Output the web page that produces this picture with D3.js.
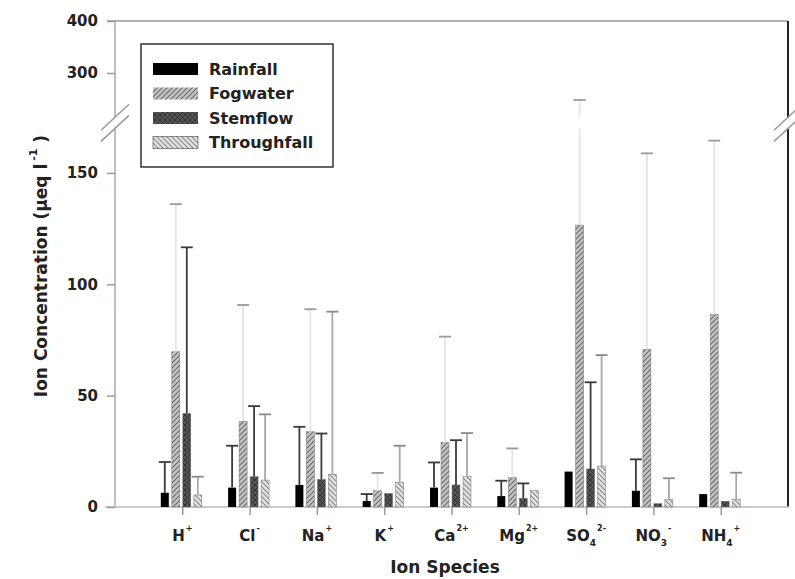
<!DOCTYPE html>
<html>
<head>
<meta charset="utf-8">
<script src="https://cdn.jsdelivr.net/npm/d3@7"></script>
<style>
  body { margin: 0; background: #fff; }
  svg { display: block; }
  text { font-family: "DejaVu Sans", sans-serif; font-weight: bold; fill: #222; }
</style>
</head>
<body>
<svg id="chart" width="795" height="579"></svg>
<script>
// ion species (label base, subscript, superscript)
const ions    = ["H", "Cl", "Na", "K", "Ca", "Mg", "SO", "NO", "NH"];
const ionSubs = ["", "", "", "", "", "", "4", "3", "4"];
const ionSups = ["+", "-", "+", "+", "2+", "2+", "2-", "-", "+"];

const series = ["Rainfall", "Fogwater", "Stemflow", "Throughfall"];

// mean concentrations (ueq/l)
const rainfall    = [6.4, 8.7, 9.9, 2.7, 8.7, 4.9, 15.9, 7.3, 5.8];
const fogwater    = [69.7, 38.5, 33.8, 7.3, 29.0, 13.2, 126.6, 70.8, 86.5];
const stemflow    = [42.0, 13.6, 12.4, 6.1, 9.9, 3.9, 17.1, 1.5, 2.6];
const throughfall = [5.4, 12.1, 14.7, 11.1, 13.6, 7.3, 18.4, 3.5, 3.4];

// standard deviations (upper error bars)
const rainfallSd    = [13.8, 18.8, 26.1, 3.1, 11.3, 6.9, 0, 14.1, 0];
const fogwaterSd    = [66.3, 52.2, 55.0, 8.0, 47.5, 13.1, 121.4, 88.0, 78.0];
const stemflowSd    = [74.6, 31.7, 20.6, 0, 20.1, 6.7, 38.9, 0, 0];
const throughfallSd = [8.2, 29.5, 73.0, 16.4, 19.6, 0, 49.8, 9.4, 12.0];

const lowTicks = [0, 50, 100, 150];
const highTicks = [300, 400];

const means = [rainfall, fogwater, stemflow, throughfall];
const sds = [rainfallSd, fogwaterSd, stemflowSd, throughfallSd];

const svg = d3.select("#chart");

const pl = 115, pr = 788, pb = 507, pt = 21;
const lowTop = 128.4, highBottom = 117.2;

const x = d3.scaleLinear().domain([0, 10]).range([pl, pr]);
const inner = d3.scaleBand().domain(series).range([-21.5, 19.5]).paddingInner(3 / 11);
const yLow = d3.scaleLinear().domain([0, 170]).range([pb, lowTop]);
const yHigh = d3.scaleLinear().domain([215, 400]).range([highBottom, pt]);

function yOf(v) { return v <= 170 ? yLow(v) : yHigh(Math.max(v, 215)); }

// patterns
const defs = svg.append("defs");
function pattern(id, bg, path, stroke, sw) {
  const p = defs.append("pattern").attr("id", id)
    .attr("patternUnits", "userSpaceOnUse").attr("width", 5).attr("height", 5);
  p.append("rect").attr("width", 5).attr("height", 5).attr("fill", bg);
  p.append("path").attr("d", path).attr("stroke", stroke).attr("stroke-width", sw).attr("fill", "none");
}
pattern("fog", "#c4c4c4", "M-1,6L6,-1M-1,1L1,-1M4,6L6,4", "#6a6a6a", 1.1);
pattern("stem", "#555", "M0,5L5,0M0,0L5,5", "#333", 1);
pattern("thru", "#e2e2e2", "M-1,-1L6,6M4,-1L6,1M-1,4L1,6", "#8a8a8a", 1.1);

const fills = { Rainfall: "#000", Fogwater: "url(#fog)", Stemflow: "url(#stem)", Throughfall: "url(#thru)" };
const errLine = { Rainfall: "#3a3a3a", Fogwater: "#e4e4e4", Stemflow: "#3a3a3a", Throughfall: "#a8a8a8" };
const errCap = { Rainfall: "#3a3a3a", Fogwater: "#9a9a9a", Stemflow: "#3a3a3a", Throughfall: "#8a8a8a" };

// frame
const frame = svg.append("g").attr("fill", "none");
frame.append("line").attr("x1", 107).attr("x2", pr).attr("y1", pt).attr("y2", pt)
  .attr("stroke", "#999").attr("stroke-width", 1.5);
frame.append("line").attr("x1", pl).attr("x2", pl).attr("y1", pt).attr("y2", highBottom)
  .attr("stroke", "#aaa").attr("stroke-width", 1.5);
frame.append("line").attr("x1", pl).attr("x2", pl).attr("y1", lowTop).attr("y2", pb)
  .attr("stroke", "#aaa").attr("stroke-width", 1.5);
frame.append("line").attr("x1", pr).attr("x2", pr).attr("y1", pt).attr("y2", highBottom)
  .attr("stroke", "#222").attr("stroke-width", 2);
frame.append("line").attr("x1", pr).attr("x2", pr).attr("y1", lowTop).attr("y2", pb)
  .attr("stroke", "#222").attr("stroke-width", 2);
frame.append("line").attr("x1", 105).attr("x2", pr + 1).attr("y1", pb).attr("y2", pb)
  .attr("stroke", "#bbb").attr("stroke-width", 1.5);

// break marks
[pl, pr].forEach(cx => {
  [highBottom, lowTop].forEach(cy => {
    frame.append("line")
      .attr("x1", cx - 14).attr("y1", cy + 13).attr("x2", cx + 14).attr("y2", cy - 13)
      .attr("stroke", "#999").attr("stroke-width", 1.5);
  });
});

// y axes
function styleAxis(g) {
  g.select(".domain").remove();
  g.selectAll(".tick line").attr("stroke", "#999").attr("stroke-width", 1.5);
  g.selectAll(".tick text").style("font-size", "15px").attr("fill", "#222")
    .style("font-family", "DejaVu Sans").style("font-weight", "bold");
}
svg.append("g").attr("transform", `translate(${pl},0)`)
  .call(d3.axisLeft(yLow).tickValues(lowTicks).tickSize(8).tickPadding(9))
  .call(styleAxis);
svg.append("g").attr("transform", `translate(${pl},0)`)
  .call(d3.axisLeft(yHigh).tickValues(highTicks).tickSize(8).tickPadding(9))
  .call(styleAxis);

// x axis ticks
svg.append("g").attr("transform", `translate(0,${pb})`)
  .call(d3.axisBottom(x).tickValues(d3.range(1, ions.length + 1)).tickSize(8).tickFormat(""))
  .call(g => {
    g.select(".domain").remove();
    g.selectAll(".tick line").attr("stroke", "#999").attr("stroke-width", 1.5);
  });

// x labels
ions.forEach((ion, i) => {
  const t = svg.append("text").attr("x", x(i + 1)).attr("y", 541)
    .attr("text-anchor", "middle").style("font-size", "15px");
  t.append("tspan").text(ion);
  if (ionSubs[i]) t.append("tspan").attr("dy", 5).style("font-size", "9px").text(ionSubs[i]);
  t.append("tspan").attr("dy", ionSubs[i] ? -15 : -10).attr("dx", 1).style("font-size", "8px").text(ionSups[i]);
});

// bars
const rows = [];
series.forEach((s, si) => {
  ions.forEach((ion, i) => {
    rows.push({ s, i, v: means[si][i], sd: sds[si][i] });
  });
});

svg.append("g").selectAll("rect").data(rows).join("rect")
  .attr("x", d => x(d.i + 1) + inner(d.s))
  .attr("width", inner.bandwidth())
  .attr("y", d => yLow(d.v))
  .attr("height", d => yLow(0) - yLow(d.v))
  .attr("fill", d => fills[d.s])
  .attr("stroke", d => d.s === "Rainfall" ? "none" : "#777")
  .attr("stroke-width", 0.5);

// error bars
const eb = svg.append("g");
rows.filter(d => d.sd > 0).forEach(d => {
  const cx = x(d.i + 1) + inner(d.s) + inner.bandwidth() / 2;
  const topV = d.v + d.sd;
  if (topV <= 170) {
    eb.append("line").attr("x1", cx).attr("x2", cx).attr("y1", yLow(d.v)).attr("y2", yLow(topV))
      .attr("stroke", errLine[d.s]).attr("stroke-width", 1.8);
  } else {
    eb.append("line").attr("x1", cx).attr("x2", cx).attr("y1", yLow(d.v)).attr("y2", lowTop)
      .attr("stroke", errLine[d.s]).attr("stroke-width", 1.8);
    eb.append("line").attr("x1", cx).attr("x2", cx).attr("y1", highBottom).attr("y2", yHigh(topV))
      .attr("stroke", errLine[d.s]).attr("stroke-width", 1.8);
  }
  eb.append("line").attr("x1", cx - 6).attr("x2", cx + 6).attr("y1", yOf(topV)).attr("y2", yOf(topV))
    .attr("stroke", errCap[d.s]).attr("stroke-width", 1.8);
});

// legend
const lg = svg.append("g");
lg.append("rect").attr("x", 141).attr("y", 44).attr("width", 192).attr("height", 123)
  .attr("fill", "#fff").attr("stroke", "#333").attr("stroke-width", 1.5);
series.forEach((s, k) => {
  const yy = 63 + k * 24.5;
  lg.append("rect").attr("x", 153).attr("y", yy).attr("width", 45).attr("height", 12)
    .attr("fill", fills[s]).attr("stroke", s === "Throughfall" ? "#444" : "none").attr("stroke-width", 0.6);
  lg.append("text").attr("x", 209).attr("y", yy + 11.5).style("font-size", "16px").text(s);
});

// axis titles
svg.append("text").attr("x", 445).attr("y", 573).attr("text-anchor", "middle")
  .style("font-size", "17px").text("Ion Species");

const yt = svg.append("text").attr("transform", "translate(47,266) rotate(-90)")
  .attr("text-anchor", "middle").style("font-size", "17px");
yt.append("tspan").text("Ion Concentration (\u00b5eq l");
yt.append("tspan").attr("dy", -10).attr("dx", 3).style("font-size", "11px").text("-1");
yt.append("tspan").attr("dy", 10).text(" )");
</script>
</body>
</html>
